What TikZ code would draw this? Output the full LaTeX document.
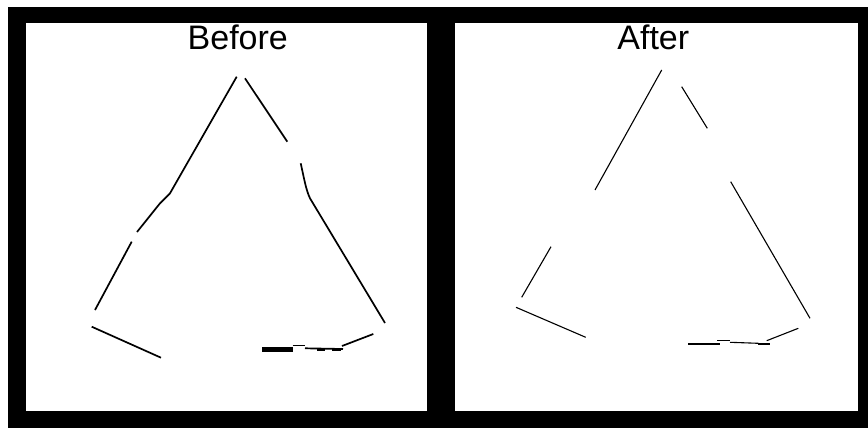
\documentclass[tikz,border=0pt]{standalone}
\usepackage{fontspec}
\setmainfont{Liberation Sans}
\begin{document}
\begin{tikzpicture}[x=1pt,y=-1pt,
  beforeline/.style={line width=1.7pt, line join=round},
  thickline/.style={line width=4.5pt},
  afterline/.style={line width=1.1pt},
  title/.style={font=\fontsize{34}{40}\selectfont, anchor=base, inner sep=0pt}]
\useasboundingbox (0,0) rectangle (868,428);
\fill[white] (0,0) rectangle (868,428);
\fill[black] (8,7) rectangle (868,428);
\fill[white] (26,22.7) rectangle (427,411);
\fill[white] (455,22.7) rectangle (857.7,411);
\node[title] (tb) at (237.8,49.5) {Before};
\node[title] (ta) at (653.3,49.5) {After};
% Before
\draw[beforeline] (236.7,76.7) -- (170,193.3) -- (160,203.3) -- (137,232);
\draw[beforeline] (131.7,241.7) -- (95,310);
\draw[beforeline] (245,78.3) -- (287.3,141.7);
\draw[beforeline] (300.7,163.3) .. controls (304,178) and (306,190) .. (310,198.3) -- (385,323);
\draw[beforeline] (91.7,326.7) -- (161,357.7);
\draw[thickline] (262,349.5) -- (293,349.5);
\draw[beforeline] (292.7,345.5) -- (305,345.5);
\draw[beforeline] (305,348.3) -- (343,349);
\draw[line width=2.5pt] (317,350) -- (325,350);
\draw[line width=2.5pt] (332,350) -- (341,350);
\draw[beforeline] (342,346) -- (373.3,334);
% After
\draw[afterline] (661.7,70) -- (595,190);
\draw[afterline] (681.7,86.7) -- (707.3,128.3);
\draw[afterline] (730.7,181.7) -- (810,318.3);
\draw[afterline] (551,246.7) -- (521.7,297.3);
\draw[afterline] (516,307.3) -- (585.7,337.3);
\draw[afterline] (688.3,344) -- (720,344);
\draw[afterline] (717.3,340.7) -- (730,340.7);
\draw[afterline] (730,342.3) -- (758.3,343.3);
\draw[afterline] (758.3,344) -- (770,344);
\draw[afterline] (766.7,340.7) -- (798.3,328.3);
\end{tikzpicture}
\end{document}
